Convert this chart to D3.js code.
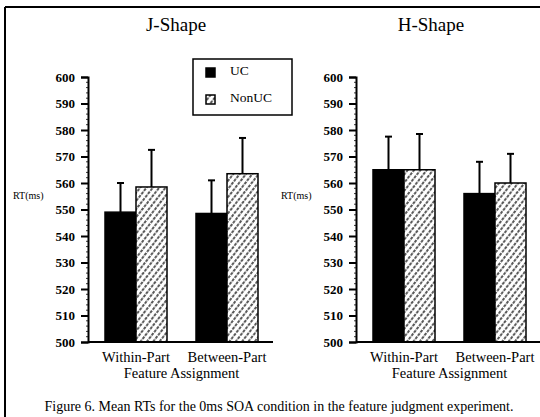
<!DOCTYPE html>
<html>
<head>
<meta charset="utf-8">
<script src="https://cdn.jsdelivr.net/npm/d3@7"></script>
<style>
  body { margin: 0; background: #fff; }
  svg text { font-family: "Liberation Serif", "Times New Roman", serif !important; fill: #000; }
</style>
</head>
<body>
<svg id="chart"></svg>
<script>
// data (RT in ms)
const groups = ["Within-Part", "Between-Part"];
const series = ["UC", "NonUC"];
const panelTitles = ["J-Shape", "H-Shape"];
const jMeans = [[549, 558.5], [548.5, 563.5]];
const jErrTops = [[560, 572.5], [561, 577]];
const hMeans = [[565, 565], [556, 560]];
const hErrTops = [[577.5, 578.5], [568, 571]];
const yTicks = [500, 510, 520, 530, 540, 550, 560, 570, 580, 590, 600];

const W = 540, H = 417;
const svg = d3.select("#chart").attr("width", W).attr("height", H);

// hatch for NonUC
const defs = svg.append("defs");
const pat = defs.append("pattern")
    .attr("id", "hatch")
    .attr("patternUnits", "userSpaceOnUse")
    .attr("width", 5).attr("height", 8.4)
    .attr("patternTransform", "rotate(38)");
pat.append("rect").attr("width", 5).attr("height", 8.4).attr("fill", "#fff");
pat.append("line")
    .attr("x1", 1).attr("x2", 1).attr("y1", 0).attr("y2", 8.4)
    .attr("stroke", "#000").attr("stroke-width", 1.3)
    .attr("stroke-dasharray", "3,1.2");

// frame
svg.append("line").attr("x1", 5).attr("x2", W).attr("y1", 7).attr("y2", 7)
    .attr("stroke", "#000").attr("stroke-width", 2);
svg.append("line").attr("x1", 5).attr("x2", 5).attr("y1", 7).attr("y2", H)
    .attr("stroke", "#000").attr("stroke-width", 2);

const y = d3.scaleLinear().domain([500, 600]).range([342, 77]);
const color = d3.scaleOrdinal().domain(series).range(["#000", "url(#hatch)"]);

function drawPanel(axisX, axisEnd, title, means, errTops, titleX) {
    const g = svg.append("g");

    g.append("text")
        .attr("x", titleX).attr("y", 31)
        .attr("text-anchor", "middle")
        .style("font-size", "19px")
        .text(title);

    const x0 = d3.scalePoint().domain(groups).range([axisX + 48, axisX + 139]);
    const x1 = d3.scaleBand().domain(series).range([-31, 31]).padding(0);

    // y axis
    const yAxis = g.append("g")
        .attr("transform", `translate(${axisX},0)`)
        .call(d3.axisLeft(y).tickValues(yTicks).tickSize(7).tickPadding(6));
    yAxis.select(".domain").attr("stroke-width", 2);
    yAxis.selectAll(".tick line").attr("stroke-width", 2);
    yAxis.selectAll("text")
        .style("font-size", "13px")
        .style("font-weight", "bold");

    // minor ticks
    g.selectAll(".minor")
        .data(d3.range(502, 600, 2).filter(v => v % 10 !== 0))
        .enter().append("line")
        .attr("x1", axisX - 2).attr("x2", axisX)
        .attr("y1", d => y(d)).attr("y2", d => y(d))
        .attr("stroke", "#000").attr("stroke-width", 0.8);

    g.append("text")
        .attr("x", axisX - 75).attr("y", 199)
        .style("font-size", "10px")
        .text("RT(ms)");

    // bars
    groups.forEach((grp, gi) => {
        series.forEach((s, si) => {
            const bx = x0(grp) + x1(s);
            g.append("rect")
                .attr("x", bx)
                .attr("y", y(means[gi][si]))
                .attr("width", x1.bandwidth())
                .attr("height", y(500) - y(means[gi][si]))
                .attr("fill", color(s))
                .attr("stroke", "#000")
                .attr("stroke-width", 1.5);
            const cx = bx + x1.bandwidth() / 2;
            g.append("line")
                .attr("x1", cx).attr("x2", cx)
                .attr("y1", y(means[gi][si])).attr("y2", y(errTops[gi][si]))
                .attr("stroke", "#000").attr("stroke-width", 2);
            g.append("line")
                .attr("x1", cx - 3.5).attr("x2", cx + 3.5)
                .attr("y1", y(errTops[gi][si])).attr("y2", y(errTops[gi][si]))
                .attr("stroke", "#000").attr("stroke-width", 2);
        });
        g.append("text")
            .attr("x", x0(grp)).attr("y", 362)
            .attr("text-anchor", "middle")
            .style("font-size", "14.5px")
            .text(grp);
    });

    // x baseline
    g.append("line")
        .attr("x1", axisX).attr("x2", axisEnd)
        .attr("y1", y(500)).attr("y2", y(500))
        .attr("stroke", "#000").attr("stroke-width", 2);

    g.append("text")
        .attr("x", (x0(groups[0]) + x0(groups[1])) / 2).attr("y", 378)
        .attr("text-anchor", "middle")
        .style("font-size", "14.5px")
        .text("Feature Assignment");
}

drawPanel(88, 273, panelTitles[0], jMeans, jErrTops, 176);
drawPanel(356, W, panelTitles[1], hMeans, hErrTops, 431);

// legend
const legend = svg.append("g").attr("transform", "translate(193,59)");
legend.append("rect")
    .attr("width", 99).attr("height", 56)
    .attr("fill", "#fff").attr("stroke", "#000").attr("stroke-width", 1.5);
series.forEach((s, i) => {
    legend.append("rect")
        .attr("x", 13).attr("y", 9 + i * 27)
        .attr("width", 9).attr("height", 9)
        .attr("fill", color(s))
        .attr("stroke", "#000").attr("stroke-width", 1.5);
    legend.append("text")
        .attr("x", 37).attr("y", 16 + i * 27)
        .style("font-size", "13.5px")
        .text(s);
});

// caption
svg.append("text")
    .attr("x", 279).attr("y", 411)
    .attr("text-anchor", "middle")
    .style("font-size", "14px")
    .text("Figure 6. Mean RTs for the 0ms SOA condition in the feature judgment experiment.");
</script>
</body>
</html>
